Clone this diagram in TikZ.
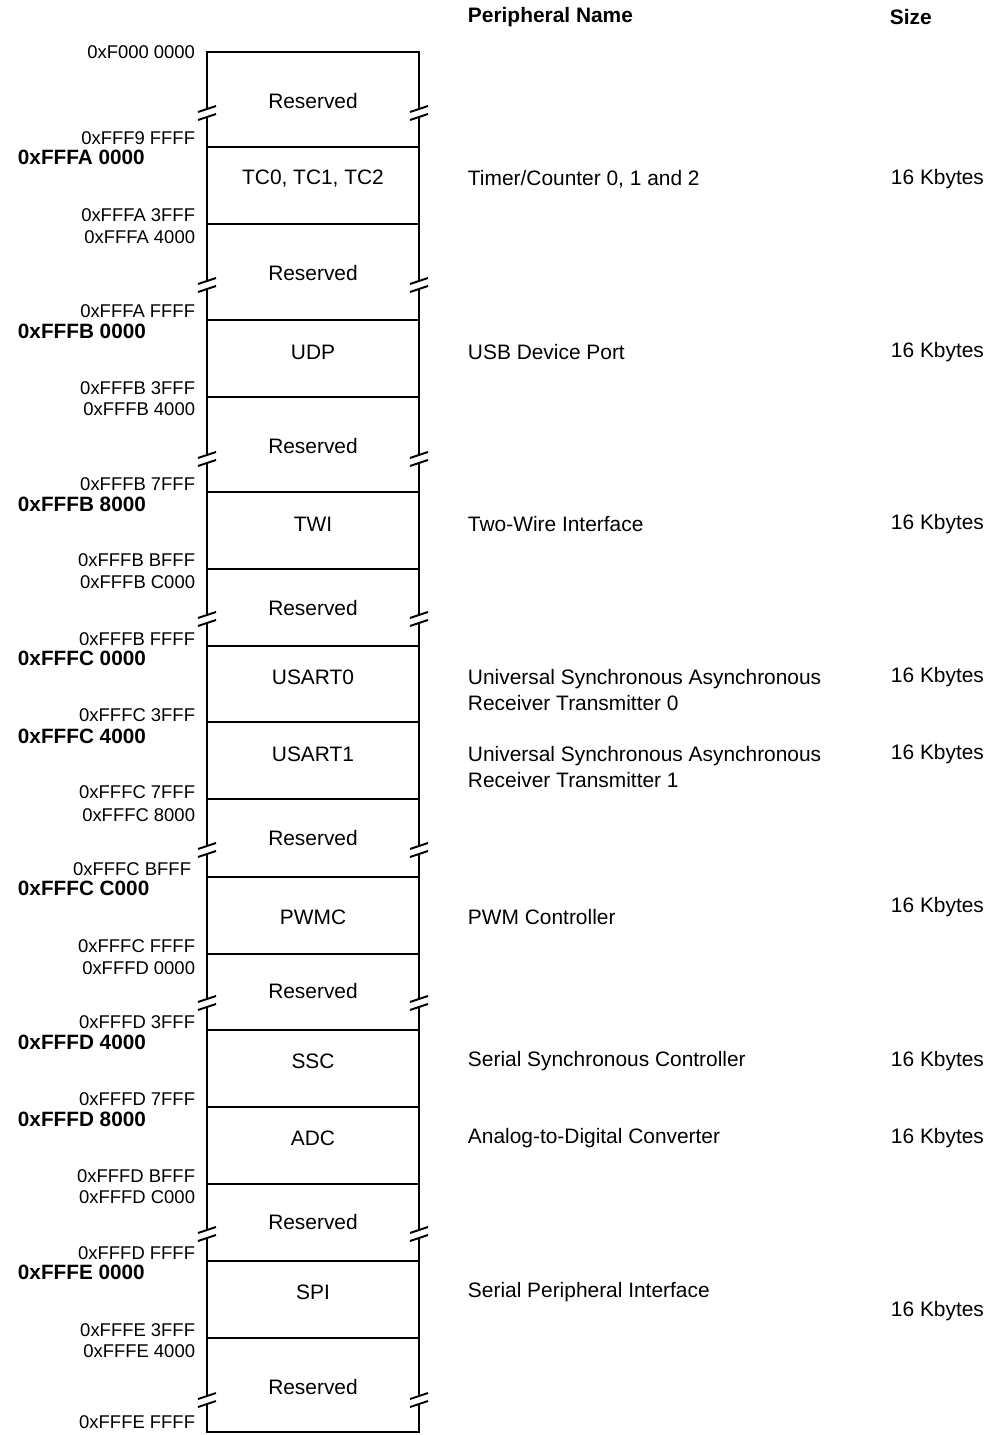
\documentclass[tikz,border=0pt]{standalone}
\usepackage{fontspec}
\setmainfont{Liberation Sans}
\begin{document}
\begin{tikzpicture}[x=0.02cm,y=-0.02cm,line width=1.1pt,
  addr/.style={anchor=east,inner sep=0pt,font=\fontsize{10.5}{12}\selectfont},
  addrb/.style={anchor=west,inner sep=0pt,font=\fontsize{11.8}{14}\bfseries\selectfont},
  cell/.style={inner sep=0pt,font=\fontsize{11.9}{14}\selectfont},
  desc/.style={anchor=west,inner sep=0pt,align=left,font=\fontsize{11.9}{14.8}\selectfont},
  head/.style={anchor=west,inner sep=0pt,font=\fontsize{11.9}{14}\bfseries\selectfont},
  breakmark/.pic={
    \fill[white] (-9,-1) -- (9,-7) -- (9,1) -- (-9,7) -- cycle;
    \draw (-9,-1) -- (9,-7);
    \draw (-9,7) -- (9,1);
  }]
\useasboundingbox (0,0) rectangle (997,1435);

% column headers
\node[head] (hname) at (467,17) {Peripheral Name};
\node[head] (hsize) at (889,17) {Size};

% memory column
\draw (207,52) rectangle (419,147);
\draw (207,147) rectangle (419,224);
\draw (207,224) rectangle (419,320);
\draw (207,320) rectangle (419,397);
\draw (207,397) rectangle (419,492);
\draw (207,492) rectangle (419,569);
\draw (207,569) rectangle (419,646);
\draw (207,646) rectangle (419,722);
\draw (207,722) rectangle (419,799);
\draw (207,799) rectangle (419,877);
\draw (207,877) rectangle (419,954);
\draw (207,954) rectangle (419,1030);
\draw (207,1030) rectangle (419,1107);
\draw (207,1107) rectangle (419,1184);
\draw (207,1184) rectangle (419,1261);
\draw (207,1261) rectangle (419,1338);
\draw (207,1338) rectangle (419,1432);

% breaks in the reserved areas
\pic at (207,113) {breakmark};  \pic at (419,113) {breakmark};
\pic at (207,285) {breakmark};  \pic at (419,285) {breakmark};
\pic at (207,459) {breakmark};  \pic at (419,459) {breakmark};
\pic at (207,619) {breakmark};  \pic at (419,619) {breakmark};
\pic at (207,850) {breakmark};  \pic at (419,850) {breakmark};
\pic at (207,1003) {breakmark}; \pic at (419,1003) {breakmark};
\pic at (207,1234) {breakmark}; \pic at (419,1234) {breakmark};
\pic at (207,1400) {breakmark}; \pic at (419,1400) {breakmark};

% cell texts
\node[cell] (rsv1) at (313,101) {Reserved};
\node[cell] (tc) at (313,179) {TC0, TC1, TC2};
\node[cell] (rsv2) at (313,273) {Reserved};
\node[cell] (udp) at (313,352) {UDP};
\node[cell] (rsv3) at (313,446) {Reserved};
\node[cell] (twi) at (313,524) {TWI};
\node[cell] (rsv4) at (313,608) {Reserved};
\node[cell] (usart0) at (313,677) {USART0};
\node[cell] (usart1) at (313,754) {USART1};
\node[cell] (rsv5) at (313,838) {Reserved};
\node[cell] (pwmc) at (313,917) {PWMC};
\node[cell] (rsv6) at (313,991) {Reserved};
\node[cell] (ssc) at (313,1061) {SSC};
\node[cell] (adc) at (313,1138) {ADC};
\node[cell] (rsv7) at (313,1222) {Reserved};
\node[cell] (spi) at (313,1292) {SPI};
\node[cell] (rsv8) at (313,1387) {Reserved};

% addresses
\node[addr] (a1) at (196,52) {0xF000 0000};
\node[addr] (a2) at (196,138) {0xFFF9 FFFF};
\node[addrb] (b1) at (17,157) {0xFFFA 0000};
\node[addr] (a3) at (196,215) {0xFFFA 3FFF};
\node[addr] (a4) at (196,237) {0xFFFA 4000};
\node[addr] (a5) at (196,311) {0xFFFA FFFF};
\node[addrb] (b2) at (17,331) {0xFFFB 0000};
\node[addr] (a6) at (196,388) {0xFFFB 3FFF};
\node[addr] (a7) at (196,409) {0xFFFB 4000};
\node[addr] (a8) at (196,484) {0xFFFB 7FFF};
\node[addrb] (b3) at (17,504) {0xFFFB 8000};
\node[addr] (a9) at (196,560) {0xFFFB BFFF};
\node[addr] (a10) at (196,582) {0xFFFB C000};
\node[addr] (a11) at (196,639) {0xFFFB FFFF};
\node[addrb] (b4) at (17,658) {0xFFFC 0000};
\node[addr] (a12) at (196,715) {0xFFFC 3FFF};
\node[addrb] (b5) at (17,736) {0xFFFC 4000};
\node[addr] (a13) at (196,792) {0xFFFC 7FFF};
\node[addr] (a14) at (196,815) {0xFFFC 8000};
\node[addr] (a15) at (192,869) {0xFFFC BFFF};
\node[addrb] (b6) at (17,888) {0xFFFC C000};
\node[addr] (a16) at (196,946) {0xFFFC FFFF};
\node[addr] (a17) at (196,968) {0xFFFD 0000};
\node[addr] (a18) at (196,1022) {0xFFFD 3FFF};
\node[addrb] (b7) at (17,1042) {0xFFFD 4000};
\node[addr] (a19) at (196,1099) {0xFFFD 7FFF};
\node[addrb] (b8) at (17,1119) {0xFFFD 8000};
\node[addr] (a20) at (196,1176) {0xFFFD BFFF};
\node[addr] (a21) at (196,1197) {0xFFFD C000};
\node[addr] (a22) at (196,1253) {0xFFFD FFFF};
\node[addrb] (b9) at (17,1272) {0xFFFE 0000};
\node[addr] (a23) at (196,1330) {0xFFFE 3FFF};
\node[addr] (a24) at (196,1351) {0xFFFE 4000};
\node[addr] (a25) at (196,1422) {0xFFFE FFFF};

% peripheral names and sizes
\node[desc] (ntc) at (467,179) {Timer/Counter 0, 1 and 2};
\node[desc] (stc) at (890,179) {16 Kbytes};
\node[desc] (nudp) at (467,352) {USB Device Port};
\node[desc] (sudp) at (890,352) {16 Kbytes};
\node[desc] (ntwi) at (467,524) {Two-Wire Interface};
\node[desc] (stwi) at (890,524) {16 Kbytes};
\node[desc] (nusart0) at (467,690) {Universal Synchronous Asynchronous\\Receiver Transmitter 0};
\node[desc] (susart0) at (890,677) {16 Kbytes};
\node[desc] (nusart1) at (467,767) {Universal Synchronous Asynchronous\\Receiver Transmitter 1};
\node[desc] (susart1) at (890,754) {16 Kbytes};
\node[desc] (npwmc) at (467,917) {PWM Controller};
\node[desc] (spwmc) at (890,907) {16 Kbytes};
\node[desc] (nssc) at (467,1061) {Serial Synchronous Controller};
\node[desc] (sssc) at (890,1061) {16 Kbytes};
\node[desc] (nadc) at (467,1138) {Analog-to-Digital Converter};
\node[desc] (sadc) at (890,1138) {16 Kbytes};
\node[desc] (nspi) at (467,1292) {Serial Peripheral Interface};
\node[desc] (sspi) at (890,1311) {16 Kbytes};
\end{tikzpicture}
\end{document}
